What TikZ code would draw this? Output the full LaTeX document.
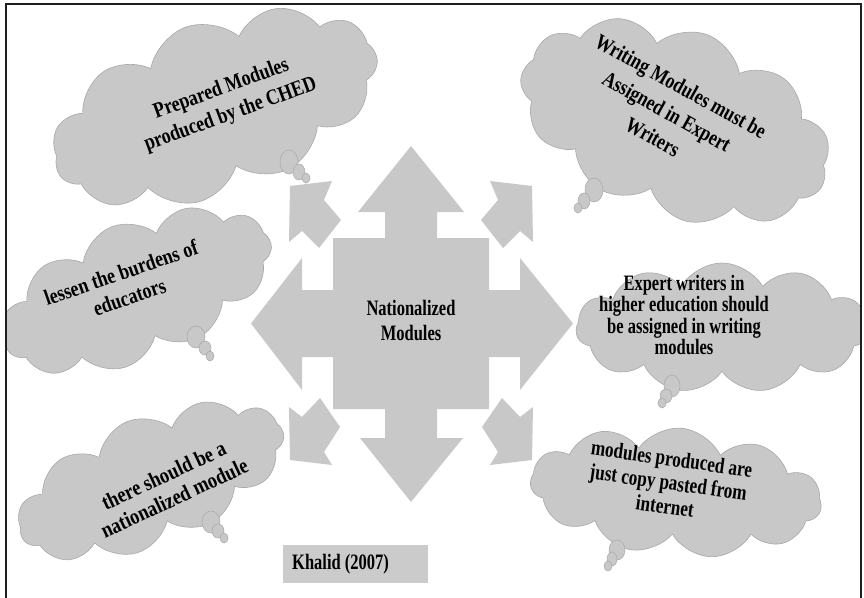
\documentclass[tikz,border=0pt]{standalone}
\usepackage{fontspec}
\setmainfont{Liberation Serif}
\usepackage{graphicx}
\usetikzlibrary{shapes.symbols}
\definecolor{shapegray}{RGB}{200,200,200}
\definecolor{edgegray}{RGB}{168,168,168}
\definecolor{boxgray}{RGB}{203,203,203}
% horizontally narrowed, centred block of lines
\newcommand{\squeezed}[2]{\scalebox{#1}[1]{\begin{tabular}{@{}c@{}}#2\end{tabular}}}

\begin{document}
\begin{tikzpicture}[x=1pt,y=-1pt,
  thought/.style={cloud, cloud puffs=11, cloud puff arc=120, cloud ignores aspect,
    fill=shapegray, draw=edgegray, line width=0.6pt, inner sep=0pt},
  cloudtext/.style={font=\fontsize{22}{#1}\selectfont\bfseries, inner sep=0pt, text=black},
  cloudtext/.default=25,
  bubble/.style={fill=shapegray, draw=edgegray, line width=0.5pt},
  blockarrow/.style={fill=shapegray, draw=none},
  framebox/.style={line width=2.6pt, draw=black!88}]

\useasboundingbox (0,0) rectangle (864,597);
\fill[white] (0,0) rectangle (864,597);

\begin{scope}
\clip (6,4) rectangle (861,610);

% ---- thought clouds ----
\node[thought, rotate=20, minimum width=340, minimum height=172] (c1) at (215,108) {};
\node[thought, rotate=-20, minimum width=322, minimum height=186] (c2) at (675,122) {};
\node[thought, rotate=22, minimum width=285, minimum height=138] (c3) at (137,291) {};
\node[thought, rotate=0, minimum width=292, minimum height=130] (c4) at (722,328) {};
\node[thought, rotate=22, minimum width=282, minimum height=128] (c5) at (151,481) {};
\node[thought, rotate=-5, minimum width=292, minimum height=128] (c6) at (676,492) {};

% cloud tails
\draw[bubble] (289,162) ellipse (9 and 12);
\draw[bubble] (299,172) ellipse (6 and 8);
\draw[bubble] (306,178) ellipse (4 and 5);

\draw[bubble] (594,190) ellipse (9 and 12);
\draw[bubble] (584,201) ellipse (6 and 8);
\draw[bubble] (578,208) ellipse (4 and 5);

\draw[bubble] (196,337) ellipse (9 and 11);
\draw[bubble] (205,348) ellipse (6 and 7);
\draw[bubble] (210,356) ellipse (4 and 5);

\draw[bubble] (672,386) ellipse (8 and 11);
\draw[bubble] (666,396) ellipse (6 and 7);
\draw[bubble] (662,403) ellipse (4 and 5);

\draw[bubble] (211,522) ellipse (9 and 11);
\draw[bubble] (218,531) ellipse (6 and 7);
\draw[bubble] (224,538) ellipse (4 and 5);

\draw[bubble] (617,550) ellipse (8 and 10);
\draw[bubble] (612,559) ellipse (5 and 7);
\draw[bubble] (608,566) ellipse (4 and 5);
\end{scope}

% cloud texts
\node[cloudtext=27, rotate=20] (t1) at (226,102)
  {\squeezed{0.82}{Prepared Modules\\produced by the CHED}};
\node[cloudtext=29, rotate=-29] (t2) at (666,113)
  {\squeezed{0.8}{Writing Modules must be\\Assigned in Expert\\Writers}};
\node[cloudtext=26, rotate=19] (t3) at (126,287)
  {\squeezed{0.82}{lessen the burdens of\\educators}};
\node[cloudtext=21] (t4) at (684,318)
  {\squeezed{0.75}{Expert writers in\\higher education should\\be assigned in writing\\modules}};
\node[cloudtext=25, rotate=25] (t5) at (170,489)
  {\squeezed{0.84}{there should be a\\nationalized module}};
\node[cloudtext=24, rotate=-8] (t6) at (668,485)
  {\squeezed{0.78}{modules produced are\\just copy pasted from\\internet}};

% ---- central four-way block arrow ----
\fill[blockarrow]
  (333,238) -- (385,238) -- (385,212) -- (358,212) -- (411,146) -- (464,212)
  -- (437,212) -- (437,238) -- (489,238) -- (489,290) -- (520,290) -- (520,258)
  -- (573,323.5) -- (520,390) -- (520,357) -- (489,357) -- (489,409) -- (437,409)
  -- (437,438) -- (463,438) -- (411,502) -- (360,438) -- (385,438) -- (385,409)
  -- (333,409) -- (333,357) -- (302,357) -- (302,390) -- (251,323.5) -- (302,258)
  -- (302,290) -- (333,290) -- cycle;
\node[cloudtext=25] (hub) at (411,323) {\squeezed{0.75}{Nationalized\\Modules}};

% ---- diagonal block arrows ----
\fill[blockarrow] (532,186) -- (533,242) -- (520,231) -- (503,248) -- (481,220)
  -- (498,200) -- (490,181) -- cycle;
\fill[blockarrow] (532,460) -- (533,407) -- (520,417) -- (502,398) -- (482,427)
  -- (498,452) -- (490,465) -- cycle;
\fill[blockarrow] (290,186) -- (289,242) -- (302,231) -- (319,248) -- (341,220)
  -- (324,200) -- (332,181) -- cycle;
\fill[blockarrow] (290,460) -- (289,407) -- (302,417) -- (320,398) -- (340,427)
  -- (324,452) -- (332,465) -- cycle;

% ---- source box ----
\node[fill=boxgray, draw=edgegray!60, line width=0.4pt, minimum width=144,
  minimum height=37, anchor=north west, inner sep=0pt] (src) at (283,545) {};
\node[cloudtext, anchor=west] (srctext) at (292,564) {\squeezed{0.75}{Khalid (2007)}};

% outer frame (bottom edge runs off the page)
\draw[framebox] (6,610) -- (6,4) -- (861,4) -- (861,610);

\end{tikzpicture}
\end{document}
